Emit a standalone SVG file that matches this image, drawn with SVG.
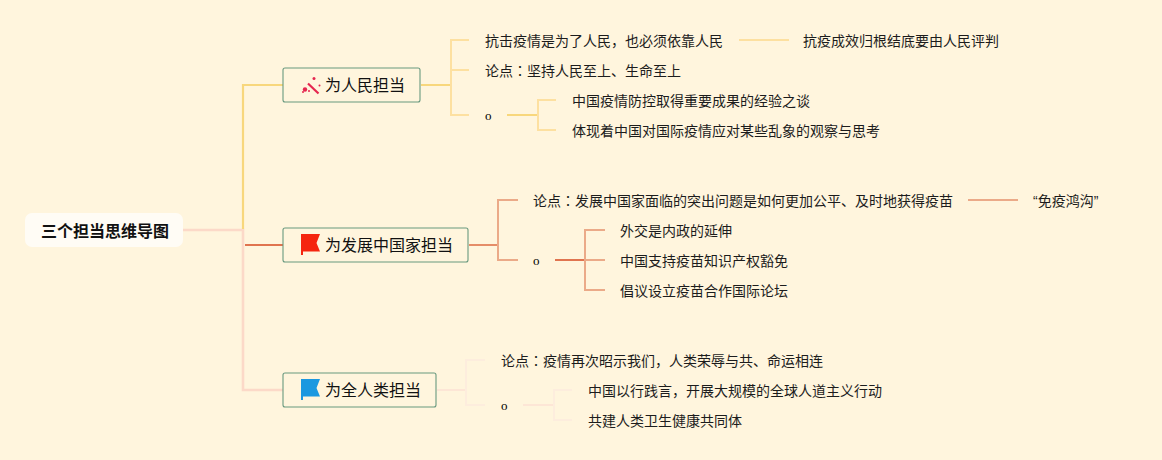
<svg xmlns="http://www.w3.org/2000/svg" width="1162" height="460" viewBox="0 0 1162 460">
<style>
text{font-family:"Noto Sans CJK SC","Liberation Sans",sans-serif;fill:#1c1c1c}
.r{font-size:16px;fill:#111}
.t{font-size:14px}
.o{font-family:"Liberation Serif",serif;font-size:13px;fill:#000}
.cn{font-family:"Noto Sans CJK TC",sans-serif}
.q{font-family:"Liberation Sans",sans-serif}
.b{fill:#fff5dd;stroke:#69997f;stroke-width:1.1}
.c{fill:none;stroke-width:2}
.y{stroke:#f8d77c}.yl{stroke:#fde0a0}.rd{stroke:#e0744f}.ro{stroke:#ebaa88}.p{stroke:#fcd9c8}.pm{stroke:#fde6d6}.pl{stroke:#fdeddd}
</style>
<rect width="1162" height="460" fill="#fff5dd"/>
<g id="connectors">
<path class="c p" style="stroke-width:2.6" d="M183 230H243V390H283"/>
<path class="c y" style="stroke-width:2.2" d="M243 229V85H283"/>
<path class="c rd" d="M245 245H283"/>
<path class="c y" d="M421 85H450"/>
<path class="c yl" d="M469 40H451V115H469M451 70H469"/>
<path class="c yl" d="M739 40H789"/>
<path class="c y" d="M507 115H537"/>
<path class="c yl" d="M556 100H538V130H556"/>
<path class="c" style="stroke:#e58d68" d="M469 245H498"/>
<path class="c ro" d="M518 200H498V260H518"/>
<path class="c ro" d="M968 200H1018"/>
<path class="c rd" d="M555 260H585"/>
<path class="c ro" d="M605 230H585V290H605M585 260H605"/>
<path class="c pm" d="M437 390H466"/>
<path class="c pl" d="M485 360H466V405H485"/>
<path class="c pm" d="M523 405H553"/>
<path class="c pl" d="M572 390H554V420H572"/>
</g>
<g id="root"><rect x="25" y="213" width="158" height="34" rx="7" fill="#fffcf5"/><text x="41" y="237" font-size="16" font-weight="700" style="fill:#111">三个担当思维导图</text></g>
<g id="n1"><rect class="b" x="283" y="68" width="137" height="34" rx="2"/>
<path d="M308 83.500l10.500 10" stroke="#e5264f" stroke-width="2.2" fill="none"/><circle cx="305" cy="89.500" r="2.2" fill="#e5264f"/><circle cx="314" cy="78.500" r="1.5" fill="#e5264f"/><circle cx="319.500" cy="85.500" r="1" fill="#e5264f"/><circle cx="303" cy="92" r="1" fill="#e5264f"/><circle cx="309" cy="91" r="1" fill="#e5264f"/>
<text class="r" x="325" y="91">为人民担当</text></g>
<g id="n2"><rect class="b" x="283" y="228" width="185" height="34" rx="2"/>
<path d="M301 234H320L316.500 243L320 251.500H303V255H301Z" fill="#f5250f"/>
<text class="r" x="325" y="251">为发展中国家担当</text></g>
<g id="n3"><rect class="b" x="283" y="373" width="153" height="34" rx="2"/>
<path d="M301 379H320L316.500 388L320 396.500H303V400H301Z" fill="#1b98e0"/>
<text class="r" x="325" y="396">为全人类担当</text></g>
<g id="n1a"><text class="t" x="485" y="46">抗击疫情是为了人民，也必须依靠人民</text></g>
<g id="n1a1"><text class="t" x="803" y="46">抗疫成效归根结底要由人民评判</text></g>
<g id="n1b"><text class="t" x="485" y="76">论点<tspan class="cn">：</tspan>坚持人民至上、生命至上</text></g>
<g id="n1c"><text class="o" x="485" y="120">o</text></g>
<g id="n1c1"><text class="t" x="572" y="106">中国疫情防控取得重要成果的经验之谈</text></g>
<g id="n1c2"><text class="t" x="572" y="136">体现着中国对国际疫情应对某些乱象的观察与思考</text></g>
<g id="n2a"><text class="t" x="533" y="206">论点<tspan class="cn">：</tspan>发展中国家面临的突出问题是如何更加公平、及时地获得疫苗</text></g>
<g id="n2a1"><text class="t" x="1033" y="206"><tspan class="q">“</tspan>免疫鸿沟<tspan class="q">”</tspan></text></g>
<g id="n2b"><text class="o" x="533" y="265">o</text></g>
<g id="n2b1"><text class="t" x="620" y="236">外交是内政的延伸</text></g>
<g id="n2b2"><text class="t" x="620" y="266">中国支持疫苗知识产权豁免</text></g>
<g id="n2b3"><text class="t" x="620" y="296">倡议设立疫苗合作国际论坛</text></g>
<g id="n3a"><text class="t" x="501" y="366">论点<tspan class="cn">：</tspan>疫情再次昭示我们，人类荣辱与共、命运相连</text></g>
<g id="n3b"><text class="o" x="501" y="410">o</text></g>
<g id="n3b1"><text class="t" x="588" y="396">中国以行践言，开展大规模的全球人道主义行动</text></g>
<g id="n3b2"><text class="t" x="588" y="426">共建人类卫生健康共同体</text></g>
</svg>
